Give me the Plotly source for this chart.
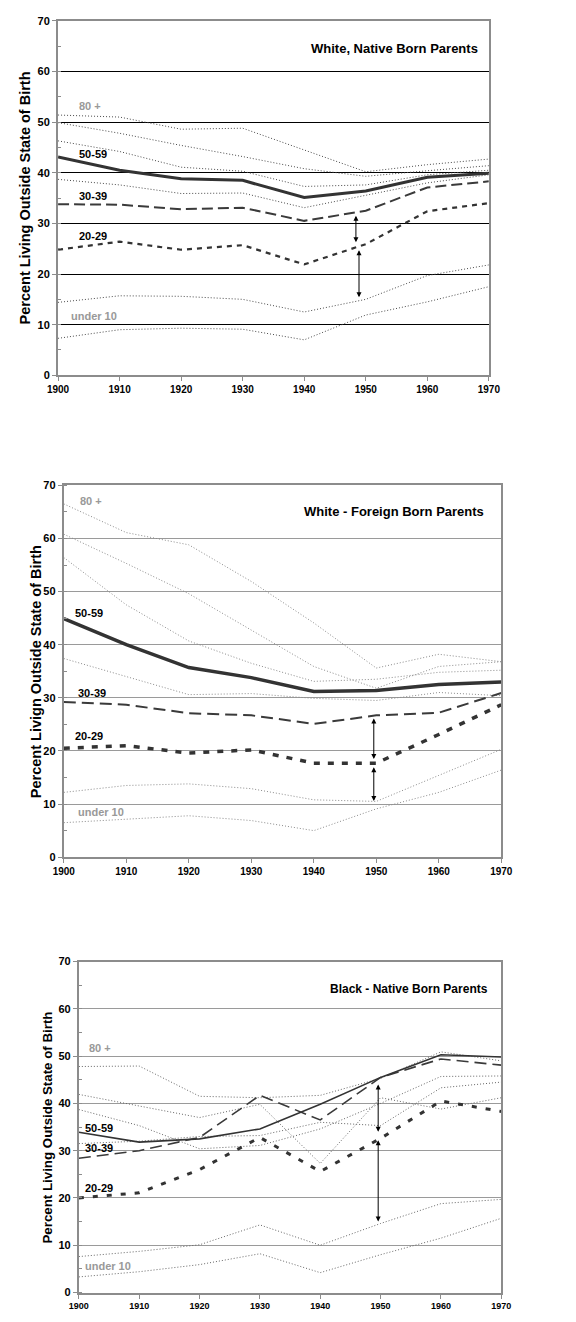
import plotly.graph_objects as go

YEARS = [1900, 1910, 1920, 1930, 1940, 1950, 1960, 1970]

# White, native born parents
WN_U10 = [7.3, 9.0, 9.3, 9.1, 7.0, 11.9, 14.5, 17.5]
WN_10_19 = [14.4, 15.7, 15.6, 15.0, 12.5, 15.0, 19.7, 21.8]
WN_20_29 = [24.8, 26.4, 24.8, 25.7, 21.9, 25.9, 32.4, 34.0]
WN_30_39 = [33.8, 33.7, 32.8, 33.1, 30.5, 32.5, 37.1, 38.3]
WN_40_49 = [38.7, 37.6, 35.9, 36.0, 33.1, 35.6, 38.0, 39.6]
WN_50_59 = [43.1, 40.5, 38.8, 38.5, 35.1, 36.4, 39.1, 39.9]
WN_60_69 = [46.3, 44.2, 41.1, 40.3, 37.3, 37.6, 39.6, 40.5]
WN_70_79 = [49.9, 47.8, 45.4, 43.2, 40.8, 39.3, 40.4, 41.4]
WN_80P = [51.4, 51.0, 48.6, 48.8, 44.5, 40.2, 41.6, 42.7]

# White, foreign born parents
WF_U10 = [6.5, 7.1, 7.8, 6.9, 5.0, 9.1, 12.2, 16.4]
WF_10_19 = [12.2, 13.5, 13.8, 12.9, 10.8, 10.5, 15.4, 20.3]
WF_20_29 = [20.5, 21.0, 19.6, 20.2, 17.7, 17.7, 23.1, 28.7]
WF_30_39 = [29.2, 28.7, 27.1, 26.7, 25.1, 26.7, 27.2, 30.9]
WF_40_49 = [37.4, 34.0, 30.6, 30.8, 29.9, 29.5, 31.0, 30.4]
WF_50_59 = [44.9, 40.0, 35.7, 33.8, 31.2, 31.4, 32.5, 33.0]
WF_60_69 = [56.4, 47.5, 40.7, 36.5, 33.1, 33.5, 34.8, 35.2]
WF_70_79 = [60.8, 55.3, 49.6, 42.8, 35.9, 31.8, 35.9, 36.8]
WF_80P = [66.5, 61.1, 58.8, 51.9, 44.1, 35.6, 38.2, 36.8]

# Black, native born parents
BN_U10 = [3.3, 4.4, 5.9, 8.2, 4.2, 8.0, 11.5, 15.7]
BN_10_19 = [7.6, 8.7, 10.1, 14.3, 10.0, 14.6, 18.8, 19.7]
BN_20_29 = [20.0, 21.1, 26.0, 32.8, 25.6, 32.6, 40.5, 38.3]
BN_30_39 = [28.4, 30.0, 32.8, 41.7, 36.5, 45.5, 49.4, 48.1]
BN_40_49 = [31.5, 32.0, 33.0, 33.2, 36.0, 35.3, 43.3, 44.5]
BN_50_59 = [33.9, 31.8, 32.5, 34.6, 39.8, 45.5, 50.3, 49.8]
BN_60_69 = [38.7, 35.3, 30.4, 31.1, 34.6, 40.0, 45.7, 45.8]
BN_70_79 = [41.9, 39.4, 37.0, 39.8, 27.3, 41.2, 38.8, 41.2]
BN_80P = [47.8, 47.9, 41.5, 41.2, 41.7, 45.3, 50.9, 49.0]

PANEL_TITLES = ["White, Native Born Parents", "White - Foreign Born Parents",
                "Black - Native Born Parents"]
Y_TITLES = ["Percent Living Outside State of Birth",
            "Percent Livign Outside State of Birth",
            "Percent Living Outside State of Birth"]
X_TICKS = [1900, 1910, 1920, 1930, 1940, 1950, 1960, 1970]
Y_TICKS = [0, 10, 20, 30, 40, 50, 60, 70]

# double-headed arrows: (year, upper value, lower value)
ARROWS = [
    [(1948.4, 31.8, 26.3), (1948.9, 25.0, 15.4)],
    [(1949.6, 26.4, 18.5), (1949.6, 17.2, 10.6)],
    [(1949.6, 44.3, 34.0), (1949.6, 32.5, 15.0)],
]

FONT = "Liberation Sans, Arial, sans-serif"

panels = [
    dict(u10=WN_U10, a10=WN_10_19, a20=WN_20_29, a30=WN_30_39, a40=WN_40_49,
         a50=WN_50_59, a60=WN_60_69, a70=WN_70_79, a80=WN_80P,
         dotc="#4a4a4a", gridc="#000000",
         w20=2.2, d20="5px,5px", w30=2, d30="11px,5px", w50=3,
         xdom=[0.0851, 0.8641], ydom=[0.7181, 0.98865], ytitle_x=0.026, ytitle_size=14.5,
         xtick=10, labels=[("80 +", 1903.0, 53.2, "#999999"),
                           ("50-59", 1903.0, 43.8, "#000000"),
                           ("30-39", 1903.0, 35.5, "#000000"),
                           ("20-29", 1903.0, 27.5, "#000000"),
                           ("under 10", 1901.8, 11.7, "#999999")],
         title_pos=(1968.5, 64.5), title_size=13),
    dict(u10=WF_U10, a10=WF_10_19, a20=WF_20_29, a30=WF_30_39, a40=WF_40_49,
         a50=WF_50_59, a60=WF_60_69, a70=WF_70_79, a80=WF_80P,
         dotc="#8a8a8a", gridc="#9a9a9a",
         w20=3.5, d20="6px,8px", w30=2, d30="12px,6px", w50=3.5,
         xdom=[0.0955, 0.8866], ydom=[0.35023, 0.63411], ytitle_x=0.045, ytitle_size=14.5,
         xtick=10, labels=[("80 +", 1902.3, 67.1, "#999999"),
                           ("50-59", 1901.5, 45.9, "#000000"),
                           ("30-39", 1902.0, 31.0, "#000000"),
                           ("20-29", 1901.5, 22.8, "#000000"),
                           ("under 10", 1902.0, 8.6, "#999999")],
         title_pos=(1967.6, 65.1), title_size=13),
    dict(u10=BN_U10, a10=BN_10_19, a20=BN_20_29, a30=BN_30_39, a40=BN_40_49,
         a50=BN_50_59, a60=BN_60_69, a70=BN_70_79, a80=BN_80P,
         dotc="#666666", gridc="#9a9a9a",
         w20=3, d20="5px,9px", w30=1.6, d30="12px,6px", w50=1.6,
         xdom=[0.1227, 0.8866], ydom=[0.01793, 0.27057], ytitle_x=0.066, ytitle_size=13.3,
         xtick=9, labels=[("80 +", 1901.3, 51.7, "#999999"),
                          ("50-59", 1900.7, 34.9, "#000000"),
                          ("30-39", 1900.7, 30.6, "#000000"),
                          ("20-29", 1900.7, 22.0, "#000000"),
                          ("under 10", 1900.7, 5.6, "#999999")],
         title_pos=(1968.2, 64.3), title_size=12),
]

fig = go.Figure()
annotations = []
layout_axes = {}

for i, p in enumerate(panels, start=1):
    xa = "x" if i == 1 else f"x{i}"
    ya = "y" if i == 1 else f"y{i}"
    xkey = "xaxis" if i == 1 else f"xaxis{i}"
    ykey = "yaxis" if i == 1 else f"yaxis{i}"

    dotted = [p["u10"], p["a10"], p["a40"], p["a60"], p["a70"], p["a80"]]
    for series in dotted:
        fig.add_trace(go.Scatter(x=YEARS, y=series, mode="lines", xaxis=xa, yaxis=ya,
                                 line=dict(color=p["dotc"], width=1, dash="1px,2px"),
                                 showlegend=False, hoverinfo="skip"))
    fig.add_trace(go.Scatter(x=YEARS, y=p["a20"], mode="lines", xaxis=xa, yaxis=ya,
                             line=dict(color="#333333", width=p["w20"], dash=p["d20"]),
                             showlegend=False))
    fig.add_trace(go.Scatter(x=YEARS, y=p["a30"], mode="lines", xaxis=xa, yaxis=ya,
                             line=dict(color="#3a3a3a", width=p["w30"], dash=p["d30"]),
                             showlegend=False))
    fig.add_trace(go.Scatter(x=YEARS, y=p["a50"], mode="lines", xaxis=xa, yaxis=ya,
                             line=dict(color="#333333", width=p["w50"]),
                             showlegend=False))

    layout_axes[xkey] = dict(
        domain=p["xdom"], anchor=ya, range=[1900, 1970], tickvals=X_TICKS,
        showgrid=False, zeroline=False, showline=True, linecolor="#8c8c8c",
        linewidth=2, mirror=True, ticks="outside", ticklen=4, tickcolor="#8c8c8c",
        tickfont=dict(family=FONT, size=p["xtick"], color="#000000", weight="bold"),
    )
    layout_axes[ykey] = dict(
        domain=p["ydom"], anchor=xa, range=[0, 70], tickvals=Y_TICKS,
        showgrid=True, gridcolor=p["gridc"], gridwidth=1, zeroline=False,
        showline=True, linecolor="#8c8c8c", linewidth=2, mirror=True,
        ticks="outside", ticklen=4, tickcolor="#8c8c8c",
        minor=dict(ticks="inside", ticklen=3, tickcolor="#8c8c8c", dtick=5, showgrid=False),
        tickfont=dict(family=FONT, size=11, color="#000000", weight="bold"),
    )

    # panel heading
    tx, ty = p["title_pos"]
    annotations.append(dict(x=tx, y=ty, xref=xa, yref=ya, text=PANEL_TITLES[i - 1],
                            showarrow=False, xanchor="right", yanchor="middle",
                            font=dict(family=FONT, size=p["title_size"], color="#000000",
                                      weight="bold")))
    # age-group labels
    for txt, lx, ly, col in p["labels"]:
        annotations.append(dict(x=lx, y=ly, xref=xa, yref=ya, text=txt, showarrow=False,
                                xanchor="left", yanchor="middle",
                                font=dict(family=FONT, size=11, color=col, weight="bold")))
    # vertical axis title
    annotations.append(dict(x=p["ytitle_x"], y=(p["ydom"][0] + p["ydom"][1]) / 2,
                            xref="paper", yref="paper", text=Y_TITLES[i - 1],
                            showarrow=False, textangle=-90, xanchor="center",
                            yanchor="middle",
                            font=dict(family=FONT, size=p["ytitle_size"], color="#000000",
                                      weight="bold")))
    # gap arrows
    for yr, top, bottom in ARROWS[i - 1]:
        annotations.append(dict(x=yr, y=bottom, ax=yr, ay=top, xref=xa, yref=ya,
                                axref=xa, ayref=ya, text="", showarrow=True,
                                arrowhead=2, arrowside="end+start", arrowsize=1,
                                arrowwidth=1, arrowcolor="#000000",
                                standoff=0, startstandoff=0))

fig.update_layout(
    width=576, height=1322,
    margin=dict(l=0, r=0, t=0, b=0),
    paper_bgcolor="#ffffff", plot_bgcolor="#ffffff",
    showlegend=False,
    annotations=annotations,
    **layout_axes,
)

fig.write_html("out.html")
